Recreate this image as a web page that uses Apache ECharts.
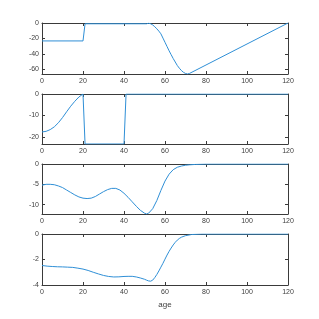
<!DOCTYPE html>
<html>
<head>
<meta charset="utf-8">
<script src="https://cdn.jsdelivr.net/npm/echarts@6/dist/echarts.min.js"></script>
<style>html,body{margin:0;padding:0;background:#fff}#c{width:319px;height:319px}</style>
</head>
<body>
<div id="c"></div>
<script>
const xTicks = [0, 20, 40, 60, 80, 100, 120];
const xLabel = 'age';

const ages1 = [0, 20, 21, 51, 52, 53, 54, 55, 56, 57, 58, 59, 60, 61, 62, 63, 64, 65, 66, 67, 68, 69, 70, 71, 72, 120];
const vals1 = [-23.2, -23.2, -1, -1, -0.3, -1, -2.5, -4.8, -7.5, -10.5, -14, -19.5, -25, -30.5, -36, -41, -46, -50.5, -55, -58.5, -61.5, -63.8, -65.3, -66, -65.2, 0];
const yTicks1 = [0, -20, -40, -60];
const yMin1 = -66;

const ages2 = [0, 2, 4, 6, 8, 10, 12, 14, 16, 18, 20, 21, 40, 41, 120];
const vals2 = [-17.7, -17.4, -16.6, -15.3, -13.4, -11, -8.3, -5.7, -3.4, -1.4, 0, -23.3, -23.3, 0, 0];
const yTicks2 = [0, -10, -20];
const yMin2 = -23.3;

const ages3 = [0, 2, 4, 6, 8, 10, 12, 14, 16, 18, 20, 22, 24, 26, 28, 30, 32, 34, 36, 38, 40, 42, 44, 46, 48, 50, 51, 52, 54, 56, 58, 60, 62, 64, 66, 68, 70, 72, 75, 80, 120];
const vals3 = [-5.2, -5.0, -5.0, -5.1, -5.4, -5.8, -6.4, -7.0, -7.6, -8.1, -8.4, -8.5, -8.4, -8.0, -7.4, -6.8, -6.3, -6.0, -6.0, -6.4, -7.2, -8.2, -9.3, -10.4, -11.4, -12.1, -12.3, -12.1, -11.0, -9.0, -6.5, -4.2, -2.5, -1.4, -0.8, -0.5, -0.3, -0.2, -0.1, 0, 0];
const yTicks3 = [0, -5, -10];
const yMin3 = -12.3;

const ages4 = [0, 2.5, 5, 7.5, 10, 12.5, 15, 17.5, 20, 22.5, 25, 27.5, 30, 32.5, 35, 37.5, 40, 42, 44, 46, 48, 50, 51, 52, 53, 54, 55, 56, 57, 58, 59, 60, 61, 62, 63, 64, 65, 66, 67, 68, 70, 73, 78, 120];
const vals4 = [-2.47, -2.52, -2.55, -2.57, -2.58, -2.6, -2.62, -2.68, -2.75, -2.86, -3.0, -3.13, -3.25, -3.33, -3.37, -3.36, -3.33, -3.32, -3.32, -3.37, -3.45, -3.55, -3.62, -3.68, -3.7, -3.62, -3.42, -3.18, -2.9, -2.6, -2.3, -1.97, -1.65, -1.36, -1.1, -0.86, -0.65, -0.48, -0.35, -0.25, -0.13, -0.04, 0, 0];
const yTicks4 = [0, -2, -4];
const yMin4 = -4;

const series = [
  [ages1, vals1, yTicks1, yMin1],
  [ages2, vals2, yTicks2, yMin2],
  [ages3, vals3, yTicks3, yMin3],
  [ages4, vals4, yTicks4, yMin4]
];

const FONT = "'Liberation Sans Narrow', 'Liberation Sans', sans-serif";
const AXC = '#3a3a3a';
const TXT = '#404040';
const tops = [23, 94, 164, 234];
const heights = [51, 50, 50, 51];

const grid = [], xAxis = [], yAxis = [], sers = [];
series.forEach((s, i) => {
  grid.push({left: 42, width: 246, top: tops[i], height: heights[i]});
  const common = {
    axisLine: {show: true, onZero: false, lineStyle: {color: AXC, width: 1}},
    splitLine: {show: false}
  };
  xAxis.push(Object.assign({
    type: 'value', gridIndex: i, min: 0, max: 120, position: 'bottom',
    axisTick: {show: true, inside: true, length: 3, lineStyle: {color: AXC}, customValues: xTicks},
    axisLabel: {show: true, fontSize: 7, color: TXT, fontFamily: FONT, margin: 4, customValues: xTicks},
    name: i === 3 ? xLabel : '', nameLocation: 'middle', nameGap: 16,
    nameTextStyle: {fontSize: 8, color: TXT, fontFamily: FONT}
  }, common));
  xAxis.push(Object.assign({
    type: 'value', gridIndex: i, min: 0, max: 120, position: 'top',
    axisTick: {show: true, inside: true, length: 3, lineStyle: {color: AXC}, customValues: xTicks},
    axisLabel: {show: false}
  }, common));
  yAxis.push(Object.assign({
    type: 'value', gridIndex: i, min: s[3], max: 0, position: 'left',
    axisTick: {show: true, inside: true, length: 3, lineStyle: {color: AXC}, customValues: s[2]},
    axisLabel: {show: true, fontSize: 7, color: TXT, fontFamily: FONT, margin: 3, customValues: s[2]}
  }, common));
  yAxis.push(Object.assign({
    type: 'value', gridIndex: i, min: s[3], max: 0, position: 'right',
    axisTick: {show: true, inside: true, length: 3, lineStyle: {color: AXC}, customValues: s[2]},
    axisLabel: {show: false}
  }, common));
  sers.push({
    type: 'line', xAxisIndex: i * 2, yAxisIndex: i * 2,
    data: s[0].map((a, k) => [a, s[1][k]]),
    showSymbol: false, symbol: 'none',
    lineStyle: {color: '#2f8fd6', width: 1},
    clip: true, animation: false
  });
});

const chart = echarts.init(document.getElementById('c'), null, {renderer: 'canvas'});
chart.setOption({animation: false, grid, xAxis, yAxis, series: sers});
</script>
</body>
</html>
